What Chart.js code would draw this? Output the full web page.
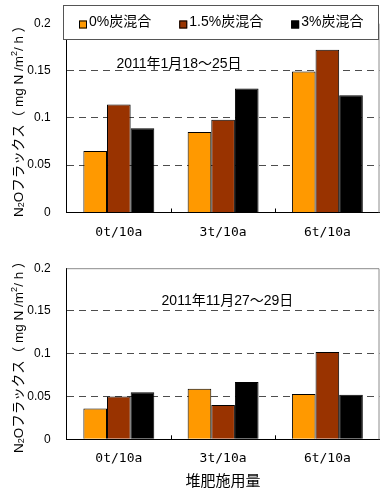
<!DOCTYPE html>
<html>
<head>
<meta charset="utf-8">
<script src="https://cdn.jsdelivr.net/npm/chart.js@4.4.0/dist/chart.umd.min.js"></script>
<style>
  html, body { margin: 0; padding: 0; background: #fff; }
  .panel { position: relative; width: 381px; }
  #panelJan { height: 245px; }
  #panelNov { height: 248px; }
</style>
</head>
<body>
<div class="panel" id="panelJan"><canvas id="chartJan"></canvas></div>
<div class="panel" id="panelNov"><canvas id="chartNov"></canvas></div>
<script>
const categories = ['0t/10a', '3t/10a', '6t/10a'];
const seriesNames = ['0%炭混合', '1.5%炭混合', '3%炭混合'];
const seriesColors = ['#FF9900', '#993300', '#000000'];
const yTicks = [0, 0.05, 0.1, 0.15, 0.2];

// 2011年1月18〜25日
const janFlux0 = [0.065, 0.085, 0.149];
const janFlux15 = [0.114, 0.098, 0.172];
const janFlux3 = [0.089, 0.131, 0.124];

// 2011年11月27〜29日
const novFlux0 = [0.036, 0.059, 0.053];
const novFlux15 = [0.050, 0.040, 0.102];
const novFlux3 = [0.055, 0.067, 0.052];

const LATIN = '"Liberation Sans", "Noto Sans CJK JP", sans-serif';

// rotated y title with N2O subscript and m2 superscript
const fluxTitle = {
    id: 'fluxTitle',
    afterDraw(chart) {
        const ctx = chart.ctx;
        const area = chart.chartArea;
        const runs = [
            { t: 'N' }, { t: '2', shift: 3 }, { t: 'Oフラックス（ mg N /m' },
            { t: '2', shift: -4 }, { t: '/ h ）' }
        ];
        const fontFor = r => r.shift ? '9px ' + LATIN : '13.5px ' + LATIN;
        ctx.save();
        let total = 0;
        runs.forEach(r => { ctx.font = fontFor(r); r.w = ctx.measureText(r.t).width; total += r.w; });
        ctx.translate(19, (area.top + area.bottom) / 2);
        ctx.rotate(-Math.PI / 2);
        ctx.fillStyle = '#000';
        ctx.textBaseline = 'middle';
        let x = -total / 2;
        runs.forEach(r => {
            ctx.font = fontFor(r);
            ctx.fillText(r.t, x, r.shift || 0);
            x += r.w;
        });
        ctx.restore();
    }
};

// grey top/right frame and small inner ticks between categories
const plotFrame = {
    id: 'plotFrame',
    afterDatasetsDraw(chart) {
        const ctx = chart.ctx;
        const a = chart.chartArea;
        const xs = chart.scales.x;
        ctx.save();
        ctx.strokeStyle = '#8c8c8c';
        ctx.lineWidth = 1;
        ctx.beginPath();
        ctx.moveTo(a.left, a.top + 0.5);
        ctx.lineTo(a.right - 0.5, a.top + 0.5);
        ctx.lineTo(a.right - 0.5, a.bottom);
        ctx.stroke();
        ctx.strokeStyle = '#000';
        ctx.beginPath();
        for (let i = 1; i < categories.length; i++) {
            const x = Math.round((xs.getPixelForValue(i - 1) + xs.getPixelForValue(i)) / 2) + 0.5;
            ctx.moveTo(x, a.bottom);
            ctx.lineTo(x, a.bottom - 4);
        }
        ctx.stroke();
        ctx.restore();
    }
};

// measurement period text inside the plot
const periodLabel = {
    id: 'periodLabel',
    afterDatasetsDraw(chart, args, opts) {
        if (!opts.text) return;
        const ctx = chart.ctx;
        const x = chart.scales.x.getPixelForValue(opts.at);
        const y = chart.scales.y.getPixelForValue(opts.level);
        ctx.save();
        ctx.font = '14px ' + LATIN;
        ctx.fillStyle = '#000';
        ctx.textAlign = 'center';
        ctx.textBaseline = 'middle';
        ctx.fillText(opts.text, x, y);
        ctx.restore();
    }
};

// boxed legend laid over the top of the plot
const boxLegend = {
    id: 'boxLegend',
    afterDraw(chart, args, opts) {
        if (!opts.show) return;
        const ctx = chart.ctx;
        ctx.save();
        ctx.fillStyle = '#fff';
        ctx.fillRect(opts.left, opts.top, opts.right - opts.left, opts.bottom - opts.top);
        ctx.strokeStyle = '#555';
        ctx.lineWidth = 1;
        ctx.strokeRect(opts.left + 0.5, opts.top + 0.5, opts.right - opts.left - 1, opts.bottom - opts.top - 1);
        ctx.font = '14px ' + LATIN;
        ctx.textBaseline = 'middle';
        const cy = (opts.top + opts.bottom) / 2;
        let x = opts.start;
        chart.data.datasets.forEach(ds => {
            ctx.fillStyle = ds.backgroundColor;
            ctx.fillRect(x, cy - 2, 8, 8);
            ctx.strokeStyle = '#000';
            ctx.strokeRect(x + 0.5, cy - 1.5, 7, 7);
            ctx.fillStyle = '#000';
            ctx.fillText(ds.label, x + 10, cy);
            x += 10 + ctx.measureText(ds.label).width + 28;
        });
        ctx.restore();
    }
};

function makeChart(id, values, cfg) {
    const datasets = values.map((v, i) => ({
        label: seriesNames[i],
        data: v,
        backgroundColor: seriesColors[i],
        borderColor: '#000',
        borderWidth: 1,
        barPercentage: 1,
        categoryPercentage: 0.68
    }));
    return new Chart(document.getElementById(id), {
        type: 'bar',
        data: { labels: categories, datasets: datasets },
        options: {
            responsive: true,
            maintainAspectRatio: false,
            animation: false,
            devicePixelRatio: 1,
            layout: { padding: { top: cfg.padTop, right: 1.5, left: 0, bottom: 0 } },
            scales: {
                x: {
                    afterFit(scale) { scale.height = cfg.xHeight; },
                    grid: { display: false, drawTicks: false },
                    border: { display: true, color: '#000', width: 1 },
                    ticks: {
                        padding: 12,
                        color: '#000',
                        font: { family: '"DejaVu Sans Mono", monospace', size: 13 }
                    },
                    title: {
                        display: !!cfg.xTitle,
                        text: cfg.xTitle || '',
                        color: '#000',
                        font: { family: LATIN, size: 15 },
                        padding: { top: 0, bottom: 2 }
                    }
                },
                y: {
                    min: 0,
                    max: 0.2,
                    afterFit(scale) { scale.width = 66.7; },
                    afterBuildTicks(scale) { scale.ticks = yTicks.map(v => ({ value: v })); },
                    grid: {
                        drawTicks: false,
                        color: c => (c.tick && (c.tick.value === 0 || c.tick.value === 0.2)) ? 'rgba(0,0,0,0)' : '#4d4d4d',
                        lineWidth: 1
                    },
                    border: { display: true, color: '#000', width: 1, dash: [7, 5] },
                    ticks: {
                        padding: 16,
                        color: '#000',
                        font: { family: LATIN, size: 12 },
                        callback: v => String(+v.toFixed(2))
                    }
                }
            },
            plugins: {
                legend: { display: false },
                tooltip: { enabled: false },
                periodLabel: cfg.period,
                boxLegend: cfg.legend || { show: false }
            }
        },
        plugins: [plotFrame, periodLabel, fluxTitle, boxLegend]
    });
}

makeChart('chartJan', [janFlux0, janFlux15, janFlux3], {
    padTop: 17.5,
    xHeight: 32.5,
    period: { text: '2011年1月18〜25日', at: 0.577, level: 0.157 },
    legend: { show: true, left: 63, top: 5, right: 379, bottom: 40, start: 79 }
});

makeChart('chartNov', [novFlux0, novFlux15, novFlux3], {
    padTop: 11,
    xHeight: 53.7,
    xTitle: '堆肥施用量',
    period: { text: '2011年11月27〜29日', at: 1.042, level: 0.161 }
});
</script>
</body>
</html>
